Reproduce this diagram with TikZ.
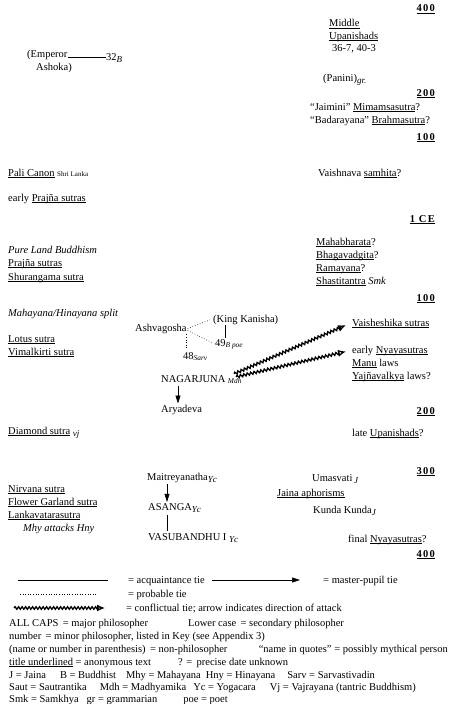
\documentclass[tikz,border=0pt]{standalone}
\usepackage{fontspec}
\setmainfont{Liberation Serif}
\newfontfamily\numfont[LetterSpace=12]{Liberation Serif}
\usetikzlibrary{decorations.pathmorphing,arrows.meta,calc}
\newcommand{\mysub}[1]{\textsubscript{\textit{#1}}}
\newcommand{\mybsub}[1]{\raisebox{-2pt}{\fontsize{9}{10}\selectfont\textit{#1}}}
\newcommand{\myul}[1]{\setbox0\hbox{#1}\rlap{\rule[-1.6pt]{\wd0}{0.45pt}}\box0\relax}
\begin{document}
\begin{tikzpicture}[x=1pt,y=-1pt,
  every node/.style={inner sep=0pt, font=\fontsize{10.5}{12}\selectfont},
  t/.style={anchor=base west},
  tr/.style={anchor=base east, font=\fontsize{10.5}{12}\numfont\bfseries},
  lg/.style={anchor=base west, font=\fontsize{10.5}{12}\selectfont},
  tie/.style={line width=0.5pt},
  prob/.style={dotted, line width=0.6pt},
  mp/.style={line width=0.6pt, -{Triangle[length=8pt,width=5pt]}},
  conflict/.style={line width=1.3pt, decorate,
     decoration={snake, amplitude=1.3pt, segment length=3.5pt, post length=6pt},
     -{Latex[open,length=8pt,width=7pt]}}]
\fill[white] (0,0) rectangle (450,704);
\useasboundingbox (0,0) rectangle (450,704);

% date marks
\node[tr] (d400a) at (435,12) {\myul{400}};
\node[tr] (d200a) at (435,96) {\myul{200}};
\node[tr] (d100a) at (435,140) {\myul{100}};
\node[tr] (d1ce) at (435,222) {\myul{1 CE}};
\node[tr] (d100b) at (435,301) {\myul{100}};
\node[tr] (d200b) at (435,414) {\myul{200}};
\node[tr] (d300) at (435,474) {\myul{300}};
\node[tr] (d400b) at (435,557) {\myul{400}};

% right column
\node[t] (mid1) at (329,27) {\myul{Middle}};
\node[t] (mid2) at (329,39) {\myul{Upanishads}};
\node[t] (mid3) at (332,51) {36-7, 40-3};
\node[t] (pan) at (323,81) {(Panini)\mybsub{gr.}};
\node[t] (jai) at (310,110) {“Jaimini” \myul{Mimamsasutra}?};
\node[t] (bad) at (310,123) {“Badarayana” \myul{Brahmasutra}?};
\node[t] (vai) at (318,176) {Vaishnava \myul{samhita}?};
\node[t] (mah) at (316,245) {\myul{Mahabharata}?};
\node[t] (bha) at (316,258) {\myul{Bhagavadgita}?};
\node[t] (ram) at (316,271) {\myul{Ramayana}?};
\node[t] (sha) at (316,284) {\myul{Shastitantra} \textit{Smk}};
\node[t] (vsh) at (352,326) {\myul{Vaisheshika sutras}};
\node[t] (nya) at (352,353) {early \myul{Nyayasutras}};
\node[t] (manu) at (352,366) {\myul{Manu} laws};
\node[t] (yaj) at (352,379) {\myul{Yajñavalkya} laws?};
\node[t] (lup) at (352,436) {late \myul{Upanishads}?};
\node[t] (uma) at (312,481) {Umasvati\,\mybsub{J}};
\node[t] (jap) at (277,496) {\myul{Jaina aphorisms}};
\node[t] (kun) at (313,513) {Kunda Kunda\mybsub{J}};
\node[t] (fny) at (348,542) {final \myul{Nyayasutras}?};

% left column
\node[t] (emp1) at (27,57) {(Emperor};
\node[t] (emp2) at (36,70) {Ashoka)};
\node[t] (n32) at (106,60) {32\mybsub{B}};
\node[t] (pali) at (8,176) {\myul{Pali Canon} {\fontsize{7}{8}\selectfont Shri Lanka}};
\node[t] (epr) at (8,201) {early \myul{Prajña sutras}};
\node[t] (pure) at (8,253) {\textit{Pure Land Buddhism}};
\node[t] (pra) at (8,266) {\myul{Prajña sutras}};
\node[t] (shu) at (8,280) {\myul{Shurangama sutra}};
\node[t] (split) at (8,316) {\textit{Mahayana/Hinayana split}};
\node[t] (lot) at (8,342) {\myul{Lotus sutra}};
\node[t] (vim) at (8,355) {\myul{Vimalkirti sutra}};
\node[t] (dia) at (8,434) {\myul{Diamond sutra} \mybsub{vj}};
\node[t] (nir) at (8,492) {\myul{Nirvana sutra}};
\node[t] (flo) at (8,505) {\myul{Flower Garland sutra}};
\node[t] (lan) at (8,518) {\myul{Lankavatarasutra}};
\node[t] (mhy) at (23,531) {\textit{Mhy attacks Hny}};

% middle
\node[t] (ash) at (135,331) {Ashvagosha};
\node[t] (kk) at (213,322) {(King Kanisha)};
\node[t] (n49) at (215,346) {49\mysub{B poe}};
\node[t] (n48) at (183,359) {48\mysub{Sarv}};
\node[t] (nag) at (161,382) {NAGARJUNA \mysub{Mdh}};
\node[t] (ary) at (161,412) {Aryadeva};
\node[t] (mai) at (147,480) {Maitreyanatha\mybsub{Yc}};
\node[t] (asa) at (148,510) {ASANGA\mybsub{Yc}};
\node[t] (vas) at (148,540) {VASUBANDHU I \mybsub{Yc}};

% connector end points
\coordinate (c48) at ($(ash.south east)+(0,1)$);
\coordinate (ck) at ($(kk.south west)+(12,1)$);
\coordinate (cn) at ($(nag.south west)+(17,2)$);
\coordinate (cm) at ($(mai.south west)+(20,2)$);
\coordinate (ca) at ($(asa.south west)+(19,3)$);

% connectors
\draw[tie] (emp1.base east) -- (emp1.base east -| n32.west);
\draw[prob] ($(ash.east)+(1,0)$) -- ($(kk.west)+(-2,0)$);
\draw[prob] ($(ash.east)+(1,2)$) -- ($(n49.west)+(-2,-1)$);
\draw[prob, shorten >=2pt] (c48) -- (c48 |- n48.north);
\draw[tie, shorten >=1pt] (ck) -- (ck |- n49.north);
\draw[mp, shorten >=1pt] (cn) -- (cn |- ary.north);
\draw[conflict] ($(nag.north east)+(-8,-1)$) -- ($(vsh.west)+(-6,2)$);
\draw[conflict] ($(nag.north east)+(-6,2)$) -- ($(nya.west)+(-6,1)$);
\draw[mp, shorten >=1pt] (cm) -- (cm |- asa.north);
\draw[tie, shorten >=2pt] (ca) -- (ca |- vas.north);

% legend
\coordinate (la1) at (18,580);
\coordinate (la2) at (108,580);
\draw[tie] (la1) -- (la2);
\node[lg] (lat) at (128,583) {= acquaintance tie};
\coordinate (lm1) at (212,580);
\coordinate (lm2) at (300,580);
\draw[mp] (lm1) -- (lm2);
\node[lg] (lmt) at (323,583) {= master-pupil tie};
\coordinate (lp1) at (20,594);
\coordinate (lp2) at (96,594);
\draw[prob] (lp1) -- (lp2);
\node[lg] (lpt) at (128,597) {= probable tie};
\coordinate (lc1) at (14,608);
\coordinate (lc2) at (105,608);
\draw[conflict] (lc1) -- (lc2);
\node[lg] (lct) at (126,611) {= conflictual tie; arrow indicates direction of attack};
\node[lg] (k1) at (9,626) {ALL CAPS\, = major philosopher};
\node[lg] (k1b) at (188,626) {Lower case\, = secondary philosopher};
\node[lg] (k2) at (9,639) {number\, = minor philosopher, listed in Key (see Appendix 3)};
\node[lg] (k3) at (9,652) {(name or number in parenthesis)\, = non-philosopher};
\node[lg, anchor=base east] (k3b) at (448,652) {“name in quotes” = possibly mythical person};
\node[lg] (k4) at (9,665) {\myul{title underlined} = anonymous text};
\node[lg] (k4b) at (178,665) {? =\, precise date unknown};
\node[lg] (k5) at (9,678) {J = Jaina\hspace{14pt}B = Buddhist\hspace{10pt}Mhy = Mahayana\hspace{5pt}Hny = Hinayana\hspace{12pt}Sarv = Sarvastivadin};
\node[lg] (k6) at (9,690) {Saut = Sautrantika\hspace{13pt}Mdh = Madhyamika\hspace{7pt}Yc = Yogacara\hspace{14pt}Vj = Vajrayana (tantric Buddhism)};
\node[lg] (k7) at (9,702) {Smk = Samkhya\hspace{8pt}gr = grammarian\hspace{26pt}poe = poet};
\end{tikzpicture}
\end{document}
